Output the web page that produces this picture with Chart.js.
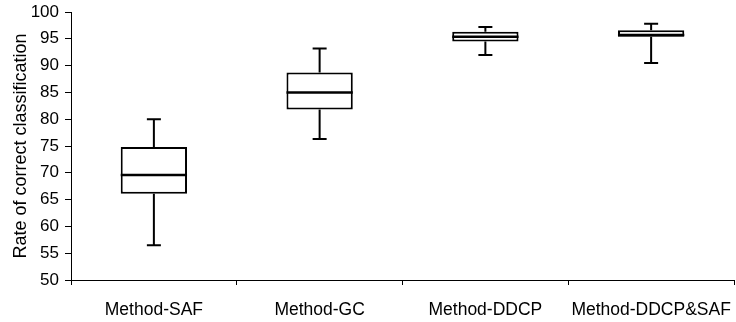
<!DOCTYPE html>
<html>
<head>
<meta charset="utf-8">
<script src="https://cdn.jsdelivr.net/npm/chart.js@4.4.1/dist/chart.umd.min.js"></script>
<style>
    html, body { margin: 0; padding: 0; background: #fff; }
    #wrap { width: 736px; height: 322px; position: relative; }
</style>
</head>
<body>
<div id="wrap"><canvas id="box-chart"></canvas></div>
<script>
    const categories = ['Method-SAF', 'Method-GC', 'Method-DDCP', 'Method-DDCP&SAF'];
    const minValues = [56.5, 76.3, 92.0, 90.5];
    const q1Values = [66.1, 81.8, 94.5, 95.4];
    const medianValues = [69.6, 85.0, 95.4, 95.7];
    const q3Values = [74.8, 88.7, 96.3, 96.6];
    const maxValues = [80.0, 93.2, 97.2, 97.8];
    const yTicks = [50, 55, 60, 65, 70, 75, 80, 85, 90, 95, 100];

    // whiskers, caps and median drawn on top of the floating bars
    const whiskerPlugin = {
        id: 'whiskers',
        afterDatasetsDraw(chart) {
            const ctx = chart.ctx;
            const x = chart.scales.x;
            const y = chart.scales.y;
            const meta = chart.getDatasetMeta(0);
            ctx.save();
            ctx.strokeStyle = '#000';
            ctx.lineWidth = 2;
            categories.forEach((cat, i) => {
                const cx = x.getPixelForValue(i);
                const bar = meta.data[i];
                const half = bar.width / 2;
                const capHalf = 7;

                ctx.beginPath();
                ctx.moveTo(cx, y.getPixelForValue(q3Values[i]));
                ctx.lineTo(cx, y.getPixelForValue(maxValues[i]));
                ctx.moveTo(cx, y.getPixelForValue(q1Values[i]));
                ctx.lineTo(cx, y.getPixelForValue(minValues[i]));
                ctx.moveTo(cx - capHalf, y.getPixelForValue(maxValues[i]));
                ctx.lineTo(cx + capHalf, y.getPixelForValue(maxValues[i]));
                ctx.moveTo(cx - capHalf, y.getPixelForValue(minValues[i]));
                ctx.lineTo(cx + capHalf, y.getPixelForValue(minValues[i]));
                ctx.stroke();

                ctx.lineWidth = 2.5;
                ctx.beginPath();
                ctx.moveTo(cx - half, y.getPixelForValue(medianValues[i]));
                ctx.lineTo(cx + half, y.getPixelForValue(medianValues[i]));
                ctx.stroke();
                ctx.lineWidth = 2;
            });
            ctx.restore();
        }
    };

    new Chart(document.getElementById('box-chart'), {
        type: 'bar',
        data: {
            labels: categories,
            datasets: [{
                data: categories.map((c, i) => [q1Values[i], q3Values[i]]),
                backgroundColor: '#fff',
                borderColor: '#000',
                borderWidth: 2,
                borderSkipped: false,
                barPercentage: 0.4,
                categoryPercentage: 1
            }]
        },
        options: {
            responsive: true,
            maintainAspectRatio: false,
            animation: false,
            layout: {padding: {top: 12, right: 2, bottom: 0, left: 0}},
            plugins: {
                legend: {display: false},
                tooltip: {enabled: false}
            },
            scales: {
                x: {
                    type: 'category',
                    offset: true,
                    grid: {offset: true, drawOnChartArea: false, tickLength: 5, color: '#000'},
                    border: {color: '#000', width: 1},
                    ticks: {color: '#000', padding: 15, autoSkip: false, maxRotation: 0, minRotation: 0, font: {family: 'Liberation Sans', size: 17.5}},
                    afterFit: (scale) => { scale.height = 42; scale.paddingRight = 0; scale.paddingLeft = 0; }
                },
                y: {
                    min: 50,
                    max: 100,
                    afterBuildTicks: (scale) => { scale.ticks = yTicks.map(v => ({value: v})); },
                    grid: {drawOnChartArea: false, tickLength: 6, color: '#000'},
                    border: {color: '#000', width: 1},
                    ticks: {color: '#000', padding: 6, font: {family: 'Liberation Sans', size: 17}},
                    title: {
                        display: true,
                        text: 'Rate of correct classification',
                        color: '#000',
                        padding: {top: 10, bottom: 0},
                        font: {family: 'Liberation Sans', size: 18}
                    },
                    afterFit: (scale) => { scale.width = 71; scale.paddingTop = 0; scale.paddingBottom = 0; }
                }
            }
        },
        plugins: [whiskerPlugin]
    });
</script>
</body>
</html>
